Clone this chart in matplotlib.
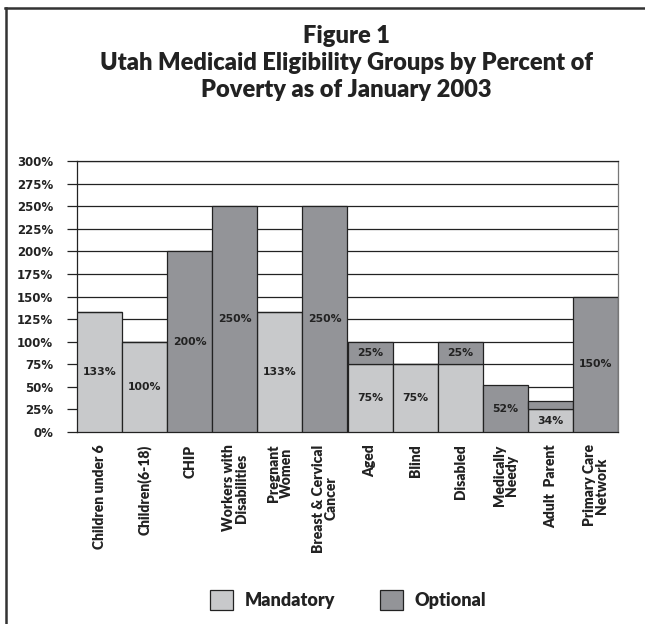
import matplotlib
matplotlib.use("Agg")
import matplotlib.pyplot as plt
import numpy as np
from matplotlib.patches import Patch
from matplotlib.lines import Line2D

# data
groups = ["Children under 6", "Children(6-18)", "CHIP", "Workers with\nDisabilities",
          "Pregnant\nWomen", "Breast & Cervical\nCancer", "Aged", "Blind", "Disabled",
          "Medically\nNeedy", "Adult  Parent", "Primary Care\nNetwork"]
mandatory = [133, 100, 0, 0, 133, 0, 75, 75, 75, 0, 25, 0]
optional = [0, 0, 200, 250, 0, 250, 25, 0, 25, 52, 9, 150]
mand_labels = ["133%", "100%", "", "", "133%", "", "75%", "75%", "", "", "34%", ""]
opt_labels = ["", "", "200%", "250%", "", "250%", "25%", "", "25%", "52%", "", "150%"]
yticks = list(range(0, 301, 25))

light = "#c8c9cb"
dark = "#939498"
ink = "#222222"

W, H = 645, 624
fig = plt.figure(figsize=(W / 100, H / 100), dpi=100)
fig.patch.set_facecolor("white")

ax = fig.add_axes([77 / W, (H - 432) / H, 541 / W, 271 / H])
x = np.arange(len(groups))

ax.bar(x, mandatory, width=1.0, color=light, edgecolor=ink, linewidth=0.9, zorder=3)
ax.bar(x, optional, width=1.0, bottom=mandatory, color=dark, edgecolor=ink, linewidth=0.9, zorder=3)

# value labels in the middle of each segment
for i in range(len(groups)):
    if mand_labels[i]:
        ax.text(x[i], mandatory[i] / 2, mand_labels[i], ha="center", va="center",
                fontsize=7.8, fontweight="bold", color=ink, family="DejaVu Sans", zorder=4)
    if opt_labels[i]:
        ax.text(x[i], mandatory[i] + optional[i] / 2, opt_labels[i], ha="center", va="center",
                fontsize=7.8, fontweight="bold", color=ink, family="DejaVu Sans", zorder=4)

ax.set_xlim(-0.5, len(groups) - 0.5)
ax.set_ylim(0, 300)
ax.set_yticks(yticks)
ax.set_yticklabels([f"{v}%" for v in yticks], fontsize=8.5, fontweight="bold",
                   family="DejaVu Sans", color=ink)
ax.tick_params(axis="y", length=7.2, width=0.9, color=ink, pad=10)
ax.yaxis.grid(True, color=ink, linewidth=0.9, zorder=0)
ax.set_axisbelow(True)

ax.set_xticks(x)
ax.set_xticklabels(groups, rotation=90, ha="center", va="top", multialignment="center",
                   fontsize=10, fontweight="heavy", family="Lato", color=ink, linespacing=0.95)
ax.tick_params(axis="x", length=0, pad=9)

for s in ["left", "bottom", "top"]:
    ax.spines[s].set_color(ink)
    ax.spines[s].set_linewidth(0.9)
ax.spines["right"].set_color("#777777")
ax.spines["right"].set_linewidth(0.9)

# title
fig.text(346 / W, 1 - 25 / H, "Figure 1\nUtah Medicaid Eligibility Groups by Percent of\nPoverty as of January 2003",
         ha="center", va="top", fontsize=17, fontweight="heavy", family="Lato",
         color=ink, linespacing=1.27)

# legend
handles = [Patch(facecolor=light, edgecolor=ink, linewidth=0.9, label="Mandatory"),
           Patch(facecolor=dark, edgecolor=ink, linewidth=0.9, label="Optional")]
leg = fig.legend(handles=handles, loc="center", bbox_to_anchor=(348 / W, 1 - 600 / H), ncol=2,
                 frameon=False, handlelength=1.25, handleheight=1.3, handletextpad=0.65,
                 columnspacing=2.5, prop={"family": "Lato", "weight": "heavy", "size": 13})
for t in leg.get_texts():
    t.set_color(ink)

# frame along top and left edges
fig.add_artist(Line2D([5 / W, 1], [1 - 8 / H, 1 - 8 / H], transform=fig.transFigure,
                      color="#333333", linewidth=1.8))
fig.add_artist(Line2D([6 / W, 6 / W], [0, 1 - 8 / H], transform=fig.transFigure,
                      color="#333333", linewidth=1.8))

fig.savefig("out.png", dpi=100)
